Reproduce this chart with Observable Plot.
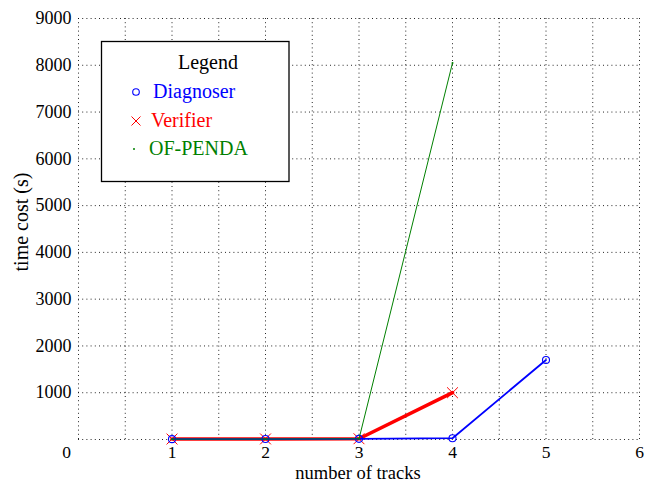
<!DOCTYPE html>
<html><head><meta charset="utf-8">
<script src="https://cdn.jsdelivr.net/npm/d3@7"></script>
<script src="https://cdn.jsdelivr.net/npm/@observablehq/plot@0.6"></script>
<style>body{margin:0;background:#fff}</style>
</head><body><div id="chart"></div>
<script>
// ---- data ----
const diagTracks = [1, 2, 3, 4, 5];
const diagTime = [8, 10, 14, 28, 1700];
const verTracks = [1, 2, 3, 4];
const verTime = [10, 12, 16, 1000];
const pendaTracks = [1, 2, 3, 4];
const pendaTime = [8, 10, 14, 8050];
const xTicks = [1, 2, 3, 4, 5, 6];
const xGrid = [0, 0.5, 1, 1.5, 2, 2.5, 3, 3.5, 4, 4.5, 5, 5.5, 6];
const yTicks = [1000, 2000, 3000, 4000, 5000, 6000, 7000, 8000, 9000];
const yGrid = [0, 1000, 2000, 3000, 4000, 5000, 6000, 7000, 8000, 9000];
const seriesNames = ["Diagnoser", "Verifier", "OF-PENDA"];
const seriesColors = ["#0000ff", "#ff0000", "#008000"];

const diag = diagTracks.map((x, i) => ({x, y: diagTime[i]}));
const ver = verTracks.map((x, i) => ({x, y: verTime[i]}));
const penda = pendaTracks.map((x, i) => ({x, y: pendaTime[i]}));

const W = 648, H = 483;
const font = "'Liberation Serif', 'DejaVu Serif', serif";
const fmt = d3.format("d");

const svg = Plot.plot({
  width: W, height: H,
  marginLeft: 78, marginRight: 9, marginTop: 18, marginBottom: 44,
  style: {fontFamily: font, fontSize: "18px", background: "white", color: "#000", overflow: "visible"},
  x: {domain: [0, 6]},
  y: {domain: [0, 9000]},
  marks: [
    Plot.ruleX(xGrid, {stroke: "#000", strokeWidth: 1, strokeDasharray: "1,3.2", strokeOpacity: 0.85}),
    Plot.ruleY(yGrid, {stroke: "#000", strokeWidth: 1, strokeDasharray: "1,3.2", strokeOpacity: 0.85}),
    Plot.axisX({ticks: xTicks, tickFormat: fmt, tickSize: 0, tickPadding: 6.5, label: null, fontSize: 17.5}),
    Plot.axisX({ticks: [0], tickFormat: fmt, tickSize: 0, tickPadding: 6.5, label: null, dx: -12, fontSize: 17.5}),
    Plot.axisY({ticks: yTicks, tickFormat: fmt, tickSize: 0, tickPadding: 7, label: null, fontSize: 18}),
    Plot.line(ver, {x: "x", y: "y", stroke: seriesColors[1], strokeWidth: 3.6}),
    Plot.dot(ver, {x: "x", y: "y", symbol: "times", stroke: seriesColors[1], r: 5, strokeWidth: 1}),
    Plot.line(diag, {x: "x", y: "y", stroke: seriesColors[0], strokeWidth: 1.8}),
    Plot.dot(diag, {x: "x", y: "y", symbol: "circle", stroke: seriesColors[0], fill: "none", r: 3.5, strokeWidth: 1.1}),
    Plot.line(penda, {x: "x", y: "y", stroke: seriesColors[2], strokeWidth: 1}),
    Plot.dot(penda, {x: "x", y: "y", fill: seriesColors[2], r: 1})
  ]
});

const s = d3.select(svg);
// axis titles
s.append("text").attr("x", 358).attr("y", 478.5).attr("text-anchor", "middle")
  .attr("font-family", font).attr("font-size", 18.5).attr("fill", "#000").text("number of tracks");
s.append("text").attr("transform", "translate(28,222) rotate(-90)").attr("text-anchor", "middle")
  .attr("font-family", font).attr("font-size", 20).attr("fill", "#000").text("time cost (s)");

// legend
const lg = s.append("g").attr("font-family", font).attr("font-size", 20);
lg.append("rect").attr("x", 101.5).attr("y", 41.5).attr("width", 187.5).attr("height", 140)
  .attr("fill", "white").attr("stroke", "#000").attr("stroke-width", 1.3);
lg.append("text").attr("x", 208).attr("y", 69).attr("text-anchor", "middle").attr("fill", "#000").text("Legend");
const rowsY = [92, 121, 149];
seriesNames.forEach((name, i) => {
  const y = rowsY[i];
  if (i === 0) lg.append("circle").attr("cx", 136).attr("cy", y).attr("r", 3.3).attr("fill", "none").attr("stroke", seriesColors[0]).attr("stroke-width", 1.1);
  if (i === 1) lg.append("path").attr("d", `M${131.5},${y-4.5}L${140.5},${y+4.5}M${131.5},${y+4.5}L${140.5},${y-4.5}`).attr("stroke", seriesColors[1]).attr("stroke-width", 1);
  if (i === 2) lg.append("circle").attr("cx", 134).attr("cy", y).attr("r", 1).attr("fill", seriesColors[2]);
  lg.append("text").attr("x", [153, 151, 149][i]).attr("y", y + 6).attr("text-anchor", "start").attr("fill", seriesColors[i]).text(name);
});

document.getElementById("chart").appendChild(svg);
</script>
</body></html>
